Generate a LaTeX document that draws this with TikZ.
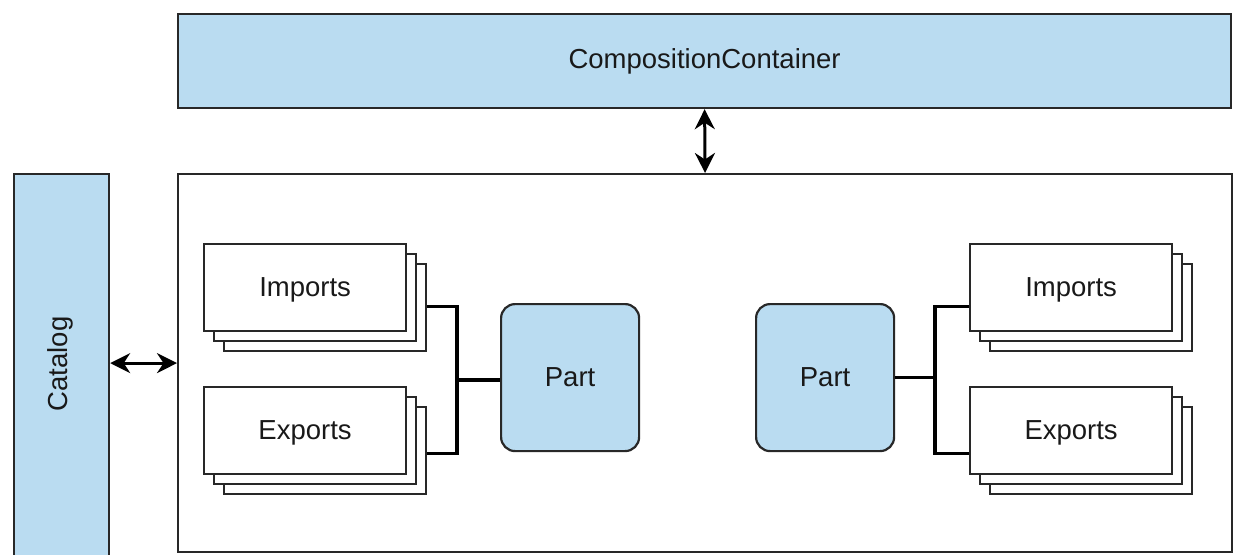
\documentclass[tikz,border=0pt]{standalone}
\usepackage{fontspec}
\setmainfont{Liberation Sans}
\usetikzlibrary{arrows.meta}
\definecolor{bluefill}{RGB}{186,220,241}
\definecolor{edge}{RGB}{40,40,40}
\tikzset{
  bluebox/.style={draw=edge, line width=2.2pt, fill=bluefill, inner sep=0pt, anchor=north west},
  whitebox/.style={draw=edge, line width=2.2pt, fill=white, inner sep=0pt, anchor=north west},
  partbox/.style={draw=edge, line width=2.2pt, fill=bluefill, inner sep=0pt, anchor=north west, rounded corners=14pt, minimum width=138pt, minimum height=147pt},
  stackbox/.style={draw=edge, line width=2.2pt, fill=white, inner sep=0pt, anchor=north west, minimum width=202pt, minimum height=87pt},
  label/.style={font=\fontsize{27.5}{32}\selectfont, text=black!90},
  link/.style={draw=black, line width=3.2pt},
  dbl/.style={draw=black, line width=3pt, {Stealth[length=20pt,width=20pt]}-{Stealth[length=20pt,width=20pt]}}
}
\begin{document}
\begin{tikzpicture}[x=1pt,y=-1pt]
\useasboundingbox[fill=white] (0,0) rectangle (1238,554);
% top container
\node[bluebox, minimum width=1053pt, minimum height=94pt] (cc) at (177,13) {};
\node[label] at (cc.center) {CompositionContainer};
% host container
\node[whitebox, minimum width=1054pt, minimum height=378pt] (host) at (177,173) {};
% catalog
\node[bluebox, minimum width=95pt, minimum height=390pt] (cat) at (13,173) {};
\node[label, rotate=90] at (60,364) {Catalog};
% arrows
\draw[dbl] (cat.east |- host.west) -- (host.west);
\draw[dbl] (cc.south) -- (host.north);
% left stacks
\node[stackbox] (li3) at (223,263) {};
\node[stackbox] (li2) at (213,253) {};
\node[stackbox] (li1) at (203,243) {};
\node[label] at ([yshift=-2.5pt]li1.center) {Imports};
\node[stackbox] (le3) at (223,406) {};
\node[stackbox] (le2) at (213,396) {};
\node[stackbox] (le1) at (203,386) {};
\node[label] at ([yshift=-2.5pt]le1.center) {Exports};
% left part
\node[partbox] (pl) at (500,303) {};
\node[label] at (pl.center) {Part};
\coordinate (jl) at (457,380);
\draw[link] ([yshift=1.5pt]li3.east) -| (jl) |- ([yshift=-2.5pt]le3.east);
\draw[link] (jl) -- (jl -| pl.west);
% right part
\node[partbox] (pr) at (755,303) {};
\node[label] at (pr.center) {Part};
% right stacks
\node[stackbox] (ri3) at (989,263) {};
\node[stackbox] (ri2) at (979,253) {};
\node[stackbox] (ri1) at (969,243) {};
\node[label] at ([yshift=-2.5pt]ri1.center) {Imports};
\node[stackbox] (re3) at (989,406) {};
\node[stackbox] (re2) at (979,396) {};
\node[stackbox] (re1) at (969,386) {};
\node[label] at ([yshift=-2.5pt]re1.center) {Exports};
\coordinate (jr) at (935,377);
\draw[link] ([yshift=-18.5pt]ri1.west) -| (jr) |- ([yshift=-23pt]re1.west);
\draw[link] (pr.east) -- (pr.east -| jr);
\end{tikzpicture}
\end{document}
